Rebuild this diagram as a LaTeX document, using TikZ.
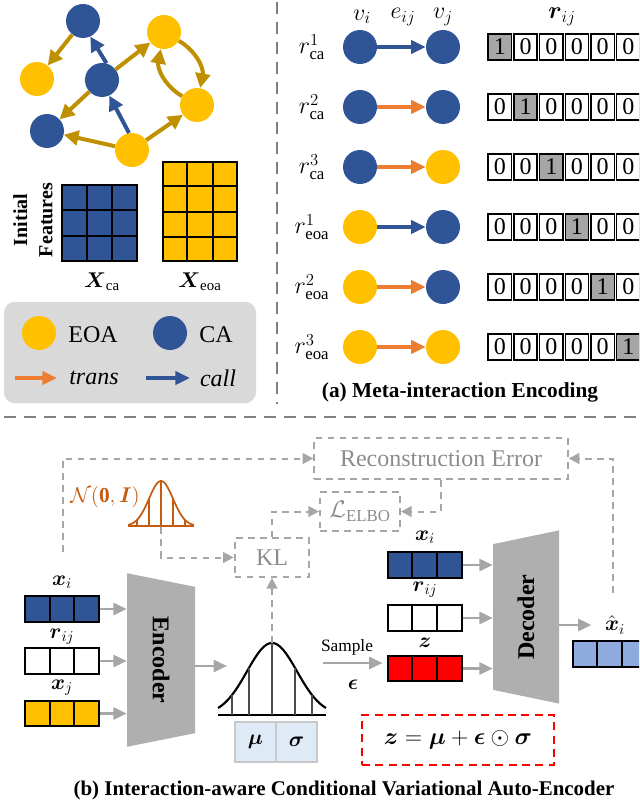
\RequirePackage{fix-cm}
\documentclass[tikz,border=0pt]{standalone}
\usepackage{amsmath,amssymb}
\usepackage{fontspec}
\setmainfont{Liberation Serif}
\usepackage{tikz}
\usetikzlibrary{arrows.meta,positioning,shapes.geometric,calc}
\definecolor{cablue}{HTML}{2F5597}
\definecolor{eoayellow}{HTML}{FFC000}
\definecolor{edgegold}{HTML}{BF9000}
\definecolor{transorange}{HTML}{ED7D31}
\definecolor{legendgray}{HTML}{D9D9D9}
\definecolor{cellgray}{HTML}{A6A6A6}
\definecolor{sepgray}{HTML}{808080}
\definecolor{lossgray}{HTML}{A6A6A6}
\definecolor{losstext}{HTML}{8C8C8C}
\definecolor{trapgray}{HTML}{AFAFAF}
\definecolor{normorange}{HTML}{C55A11}
\definecolor{mufill}{HTML}{DEEBF7}
\definecolor{muline}{HTML}{C8C8C8}
\definecolor{xhatblue}{HTML}{8FAADC}
\definecolor{zred}{HTML}{FF0000}

\begin{document}
\begin{tikzpicture}[x=0.75pt,y=-0.75pt,
  dot/.style={circle, minimum size=25.5pt, inner sep=0pt},
  canode/.style={dot, fill=cablue},
  eoanode/.style={dot, fill=eoayellow},
  edgearr/.style={line width=3pt, -{Triangle[length=11pt,width=11pt]}},
  rowarr/.style={line width=2.5pt, -{Triangle[length=11pt,width=10pt]}},
  grayarr/.style={draw=cellgray, line width=2pt, -{Triangle[length=10pt,width=9pt]}},
  lossarr/.style={draw=lossgray, line width=1.5pt, dash pattern=on 5pt off 4pt, -{Triangle[length=8pt,width=8pt]}},
  lossbox/.style={draw=lossgray, line width=1.5pt, dash pattern=on 5pt off 4pt, text=losstext,
                  font=\fontsize{18}{20}\selectfont, inner sep=0pt},
  sepline/.style={draw=sepgray, line width=2.2pt, dash pattern=on 9pt off 6pt},
  bitcell/.style={draw=black, line width=1.1pt, minimum width=17.5pt, minimum height=19.5pt,
                  inner sep=0pt, font=\fontsize{18}{18}\selectfont},
  vec/.style={draw=black, line width=1.5pt, minimum width=55.5pt, minimum height=19pt, inner sep=0pt,
    path picture={\foreach \f in {1,2}{\draw[black,line width=1.5pt]
      ($(path picture bounding box.south west)!\f/3!(path picture bounding box.south east)$) --
      ($(path picture bounding box.north west)!\f/3!(path picture bounding box.north east)$);}}},
  gridline/.style={draw=black, line width=1.5pt},
  coder/.style={trapezium, trapezium left angle=64.5, trapezium right angle=64.5,
                trapezium stretches=true, fill=trapgray, inner sep=0pt,
                font=\bfseries\fontsize{18}{18}\selectfont},
  mucell/.style={draw=muline, fill=mufill, line width=1pt, minimum width=30.75pt,
                 minimum height=30pt, inner sep=0pt, font=\fontsize{16}{16}\selectfont},
  bigtxt/.style={font=\fontsize{18}{20}\selectfont, inner sep=1pt},
  veclab/.style={font=\fontsize{16}{16}\selectfont, inner sep=1pt},
  caption/.style={font=\bfseries\fontsize{16}{18}\selectfont}
]
\useasboundingbox (0,0) rectangle (639,806);
\clip (0,0) rectangle (639,806);

% separators
\draw[sepline] (277,2) -- (277,404);
\draw[sepline] (4,417) -- (639,417);

% interaction graph
\node[canode]  (g1) at (83,21) {};
\node[eoanode] (g2) at (37,79) {};
\node[canode]  (g3) at (102,80) {};
\node[eoanode] (g4) at (164,32) {};
\node[eoanode] (g5) at (197,105) {};
\node[canode]  (g6) at (47,131) {};
\node[eoanode] (g7) at (132,150) {};
\draw[edgearr, draw=edgegold] (g1) -- (g2);
\draw[edgearr, draw=cablue] (g3.75) -- (g1.-65);
\draw[edgearr, draw=edgegold] (g3) -- (g4);
\draw[edgearr, draw=edgegold] (g3) -- (g6);
\draw[edgearr, draw=cablue] (g7.100) -- (g3.-65);
\draw[edgearr, draw=edgegold] (g7) -- (g6);
\draw[edgearr, draw=edgegold] (g7) -- (g5);
\draw[edgearr, draw=edgegold] (g4) to[bend left=35] (g5);
\draw[edgearr, draw=edgegold] (g5) to[bend left=35] (g4);

% initial features
\node[rotate=90, align=center, font=\bfseries\fontsize{15}{19}\selectfont] (initf) at (33,220) {Initial\\Features};
\node[draw=black, line width=1.5pt, fill=cablue, minimum width=56pt, minimum height=57pt, inner sep=0pt] (mca) at (99.5,223) {};
\foreach \f in {1,2}{
  \draw[gridline] ($(mca.south west)!\f/3!(mca.south east)$) -- ($(mca.north west)!\f/3!(mca.north east)$);
  \draw[gridline] ($(mca.south west)!\f/3!(mca.north west)$) -- ($(mca.south east)!\f/3!(mca.north east)$);
}
\node[draw=black, line width=1.5pt, fill=eoayellow, minimum width=55.5pt, minimum height=74pt, inner sep=0pt] (meoa) at (200,211.5) {};
\foreach \f in {1,2}
  \draw[gridline] ($(meoa.south west)!\f/3!(meoa.south east)$) -- ($(meoa.north west)!\f/3!(meoa.north east)$);
\foreach \f in {1,2,3}
  \draw[gridline] ($(meoa.south west)!\f/4!(meoa.north west)$) -- ($(meoa.south east)!\f/4!(meoa.north east)$);
\node[veclab] (xca) at (102,282) {$\boldsymbol{X}_{\mathrm{ca}}$};
\node[veclab] (xeoa) at (200,282) {$\boldsymbol{X}_{\mathrm{eoa}}$};

% legend
\node[fill=legendgray, rounded corners=8pt, minimum width=189pt, minimum height=76pt] (legend) at (130,352.5) {};
\node[eoanode] (leoa) at (39,333) {};
\node[bigtxt] (leoat) at (93,335) {EOA};
\node[canode] (lca) at (170,333) {};
\node[bigtxt] (lcat) at (216,335) {CA};
\coordinate (ltrA) at (15,378);
\coordinate (ltrB) at (57,378);
\draw[rowarr, draw=transorange] (ltrA) -- (ltrB);
\node[bigtxt, font=\itshape\fontsize{18}{20}\selectfont] (ltrt) at (94,378) {trans};
\coordinate (lclA) at (146,378);
\coordinate (lclB) at (190,378);
\draw[rowarr, draw=cablue] (lclA) -- (lclB);
\node[bigtxt, font=\itshape\fontsize{18}{20}\selectfont] (lclt) at (218,378) {call};

% meta-interaction encoding
\node[bigtxt, inner sep=0pt] (hvi) at (362,17) {$v_i$};
\node[bigtxt, inner sep=0pt] (heij) at (403,17) {$e_{ij}$};
\node[bigtxt, inner sep=0pt] (hvj) at (443,17) {$v_j$};
\node[bigtxt, inner sep=0pt] (hrij) at (562,17) {$\boldsymbol{r}_{ij}$};
\foreach \k/\grp/\idx/\srccol/\dstcol/\arrcol in {1/ca/1/cablue/cablue/cablue,
    2/ca/2/cablue/cablue/transorange, 3/ca/3/cablue/eoayellow/transorange,
    4/eoa/1/eoayellow/cablue/cablue, 5/eoa/2/eoayellow/cablue/transorange,
    6/eoa/3/eoayellow/eoayellow/transorange}{
  \pgfmathsetmacro{\ry}{47+60*(\k-1)}
  \node[bigtxt] (rl\k) at (312,\ry) {$r^{\idx}_{\mathrm{\grp}}$};
  \node[dot, fill=\srccol] (vi\k) at (360,\ry) {};
  \node[dot, fill=\dstcol] (vj\k) at (443,\ry) {};
  \draw[rowarr, draw=\arrcol] (vi\k) -- (vj\k);
  \foreach \c in {1,...,6}{
    \ifnum\c=\k\relax\def\bit{1}\def\bitfill{cellgray}\else\def\bit{0}\def\bitfill{white}\fi
    \node[bitcell, fill=\bitfill] (b\k\c) at (474.15+25.7*\c,\ry) {\bit};
  }
}
\node[caption] (capa) at (460,392) {(a) Meta-interaction Encoding};

% losses
\node[lossbox, minimum width=190pt, minimum height=31pt] (recon) at (441,458.5) {Reconstruction Error};
\node[lossbox, minimum width=60pt, minimum height=29pt] (elbo) at (360,511.5) {$\mathcal{L}_{\mathrm{ELBO}}$};
\node[lossbox, minimum width=56pt, minimum height=29pt] (kl) at (272,557.5) {KL};

% prior
\node[veclab, text=normorange] (prior) at (105,497) {$\mathcal{N}(\mathbf{0},\boldsymbol{I})$};
\draw[normorange, line width=1.3pt] plot[domain=128:194, samples=50, smooth] (\x,{526-45*exp(-((\x-161)*(\x-161))/288)});
\draw[normorange, line width=1.3pt] (128,526) -- (194,526);
\foreach \t in {-24,-12,0,12,24}
  \draw[normorange, line width=0.8pt] (161+\t,526) -- (161+\t,{526-45*exp(-(\t*\t)/288)});
\coordinate (nbase) at (161,527);

% encoder inputs
\node[vec, fill=cablue] (xiv) at (62,609) {};
\node[vec, fill=white] (rijv) at (62,661) {};
\node[vec, fill=eoayellow] (xjv) at (62,713.5) {};
\node[veclab] (xilab) at (62,582) {$\boldsymbol{x}_i$};
\node[veclab] (rijlab) at (62,637) {$\boldsymbol{r}_{ij}$};
\node[veclab] (xjlab) at (62,688) {$\boldsymbol{x}_j$};
\coordinate (xitop) at (63,552);

\node[coder, rotate=-90, minimum width=131pt, minimum height=51pt] (enc) at (161,660) {Encoder};
\draw[grayarr] (xiv.east) -- (xiv.east -| enc.south);
\draw[grayarr] (rijv.east) -- (rijv.east -| enc.south);
\draw[grayarr] (xjv.east) -- (xjv.east -| enc.south);

% posterior
\draw[line width=1.6pt] plot[domain=218:326, samples=60, smooth] (\x,{715-72*exp(-((\x-272)*(\x-272))/1250)});
\draw[line width=1.6pt] (218,715) -- (326,715);
\foreach \t in {-40,-23,0,23,40}
  \draw[black!70, line width=1pt] (272+\t,715) -- (272+\t,{715-72*exp(-(\t*\t)/1250)});
\coordinate (gpeak) at (272,643);
\coordinate (gin) at (227,666);
\draw[grayarr] (enc.north |- gin) -- (gin);
\node[mucell] (mu) at (255.5,742) {$\boldsymbol{\mu}$};
\node[mucell] (sigma) at (296.5,742) {$\boldsymbol{\sigma}$};

% sampling
\coordinate (smp) at (323,663);
\node[font=\fontsize{13}{13}\selectfont] (smptxt) at (347,647) {Sample};
\node[veclab] (eps) at (353,685) {$\boldsymbol{\epsilon}$};

% decoder inputs
\node[vec, fill=cablue] (dxiv) at (424.5,565) {};
\node[vec, fill=white] (drijv) at (424.5,618) {};
\node[vec, fill=zred] (zv) at (424.5,668.5) {};
\node[veclab] (dxilab) at (425,537) {$\boldsymbol{x}_i$};
\node[veclab] (drijlab) at (425,590) {$\boldsymbol{r}_{ij}$};
\node[veclab] (zlab) at (425,643) {$\boldsymbol{z}$};
\draw[grayarr] (smp) -- ([xshift=-3pt]smp -| zv.west);

\node[coder, rotate=90, minimum width=130.5pt, minimum height=49.5pt] (dec) at (526,617) {Decoder};
\draw[grayarr] (dxiv.east) -- (dxiv.east -| dec.north);
\draw[grayarr] (drijv.east) -- (drijv.east -| dec.north);
\draw[grayarr] (zv.east) -- (zv.east -| dec.north);

% reconstruction
\node[veclab] (xhlab) at (615,625) {$\hat{\boldsymbol{x}}_i$};
\node[vec, fill=xhatblue] (xhv) at (609.5,654) {};
\draw[grayarr] (dec.south |- xhlab) -- ([xshift=-9pt]xhlab.west);
\coordinate (xhtop) at (613,593);

% loss connectors
\draw[lossarr] (xitop) |- (recon.west);
\draw[lossarr] (xhtop) |- (recon.east);
\draw[lossarr] (recon.south) |- (elbo.east);
\draw[lossarr] (kl.north) |- (elbo.west);
\draw[lossarr] (nbase) |- (kl.west);
\draw[lossarr] (gpeak) -- (kl.south);

\node[draw=zred, line width=1.5pt, dash pattern=on 6pt off 4pt, minimum width=144pt, minimum height=37.5pt,
      font=\fontsize{18}{20}\selectfont] (reparam) at (458,740)
  {$\boldsymbol{z}=\boldsymbol{\mu}+\boldsymbol{\epsilon}\odot\boldsymbol{\sigma}$};
\node[caption, font=\bfseries\fontsize{15.7}{18}\selectfont] (capb) at (344,790) {(b) Interaction-aware Conditional Variational Auto-Encoder};
\end{tikzpicture}
\end{document}
